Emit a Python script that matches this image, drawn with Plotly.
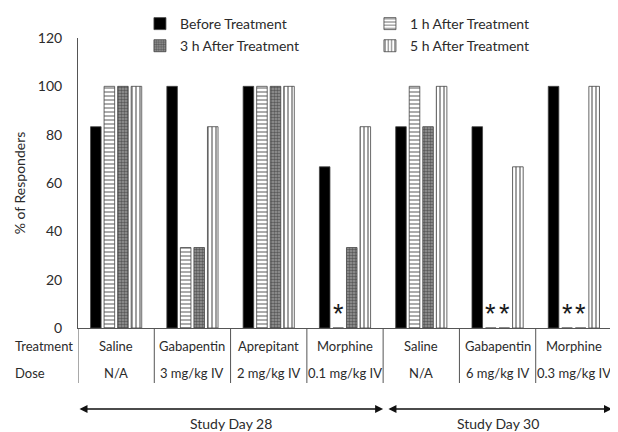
import plotly.graph_objects as go

treatments = ["Saline", "Gabapentin", "Aprepitant", "Morphine", "Saline", "Gabapentin", "Morphine"]
doses = ["N/A", "3 mg/kg IV", "2 mg/kg IV", "0.1 mg/kg IV", "N/A", "6 mg/kg IV", "0.3 mg/kg IV"]
study_days = ["Study Day 28", "Study Day 30"]
study_day_groups = [[0, 1, 2, 3], [4, 5, 6]]

series_names = ["Before Treatment", "1 h After Treatment", "3 h After Treatment", "5 h After Treatment"]
before = [83.3, 100, 100, 66.7, 83.3, 83.3, 100]
h1 = [100, 33.3, 100, 0, 100, 0, 0]
h3 = [100, 33.3, 100, 33.3, 83.3, 0, 0]
h5 = [100, 83.3, 100, 83.3, 100, 66.7, 100]
values = [before, h1, h3, h5]
# significance markers (series index, category index)
sig_marks = [(1, 3), (1, 5), (2, 5), (1, 6), (2, 6)]
y_ticks = [0, 20, 40, 60, 80, 100, 120]

FONT = "Lato"
TXT = "#2b2b2b"
BARGAP = 0.29
NSER = len(series_names)

patterns = [
    dict(shape=""),
    dict(shape="-", size=4, solidity=0.35, fgcolor="#111111", bgcolor="white", fillmode="overlay"),
    dict(shape=".", size=3, solidity=0.55, fgcolor="#1a1a1a", bgcolor="#9a9a9a", fillmode="overlay"),
    dict(shape="|", size=4, solidity=0.4, fgcolor="#111111", bgcolor="white", fillmode="overlay"),
]
colors = ["black", "white", "#9a9a9a", "white"]
legend_ids = ["legend", "legend", "legend2", "legend2"]

x = list(range(len(treatments)))
fig = go.Figure()
for i, name in enumerate(series_names):
    fig.add_trace(go.Bar(
        x=x, y=values[i], name=name, legend=legend_ids[i],
        marker=dict(color=colors[i], line=dict(color="#444444", width=0.8), pattern=patterns[i]),
    ))

annotations = []
# significance asterisks placed at the grouped bar positions
slot = (1 - BARGAP) / NSER
for s, c in sig_marks:
    xc = c - (1 - BARGAP) / 2 + (s + 0.5) * slot
    annotations.append(dict(x=xc, y=0, xref="x", yref="y", yanchor="middle", yshift=14, text="*",
                            showarrow=False, font=dict(family="Liberation Sans", size=27, color="#1a1a1a")))

for i, (t, d) in enumerate(zip(treatments, doses)):
    annotations.append(dict(x=i, y=0, xref="x", yref="paper", yshift=-18, text=t, showarrow=False,
                            font=dict(family=FONT, size=13, color=TXT), yanchor="middle"))
    annotations.append(dict(x=i, y=0, xref="x", yref="paper", yshift=-45, text=d, showarrow=False,
                            font=dict(family=FONT, size=13, color=TXT), yanchor="middle"))
annotations.append(dict(x=-0.1217, y=0, xref="paper", yref="paper", yshift=-18, text="Treatment", showarrow=False,
                        xanchor="left", font=dict(family=FONT, size=13, color=TXT), yanchor="middle"))
annotations.append(dict(x=-0.1217, y=0, xref="paper", yref="paper", yshift=-45, text="Dose", showarrow=False,
                        xanchor="left", font=dict(family=FONT, size=13, color=TXT), yanchor="middle"))

arrow_y = -81.0 / 290
for k, (label, grp) in enumerate(zip(study_days, study_day_groups)):
    x0 = grp[0] - 0.5 + (0.05 if k > 0 else 0)
    x1 = grp[-1] + 0.5
    annotations.append(dict(x=x1, y=arrow_y, xref="x", yref="paper", ax=x0, ay=0, axref="x", ayref="pixel",
                            text="", showarrow=True, arrowhead=2, startarrowhead=2, arrowside="end+start",
                            arrowsize=1, arrowwidth=1.6, arrowcolor="#111111"))
    annotations.append(dict(x=(grp[0] + grp[-1]) / 2, y=arrow_y, xref="x", yref="paper", yshift=-14,
                            text=label, showarrow=False, font=dict(family=FONT, size=14, color=TXT),
                            yanchor="middle"))

shapes = []
for b in range(len(treatments) + 1):
    shapes.append(dict(type="line", xref="x", yref="paper", x0=b - 0.5, x1=b - 0.5, y0=0, y1=-55.0 / 290,
                       line=dict(color="#555555", width=1)))

legend_common = dict(orientation="h", xanchor="left", entrywidth=185,
                     entrywidthmode="pixels", font=dict(family=FONT, size=14, color=TXT),
                     itemwidth=30, bgcolor="rgba(0,0,0,0)")

# page has an 8px body margin: figure is sized so it ends at the window edge
fig.update_layout(
    width=610, height=424,
    margin=dict(l=70, r=6, t=30, b=104, autoexpand=False),
    paper_bgcolor="white", plot_bgcolor="white",
    barmode="group", bargap=BARGAP, bargroupgap=0.22,
    font=dict(family=FONT, size=14, color=TXT),
    legend=dict(x=0.116, y=1.1034, yanchor="top", **legend_common),
    legend2=dict(x=0.116, y=0.972, yanchor="middle", **legend_common),
    xaxis=dict(range=[-0.5, 6.5], showticklabels=False, showgrid=False, zeroline=False,
               showline=True, linecolor="#555555", linewidth=1, ticks=""),
    yaxis=dict(range=[0, 120], tickvals=y_ticks, showgrid=False, zeroline=False, showline=True,
               linecolor="#555555", linewidth=1, ticks="", ticklabelstandoff=12,
               title=dict(text="% of Responders", font=dict(family=FONT, size=14, color=TXT), standoff=8),
               tickfont=dict(family=FONT, size=14, color=TXT)),
    annotations=annotations, shapes=shapes,
)

fig.write_html("out.html")
